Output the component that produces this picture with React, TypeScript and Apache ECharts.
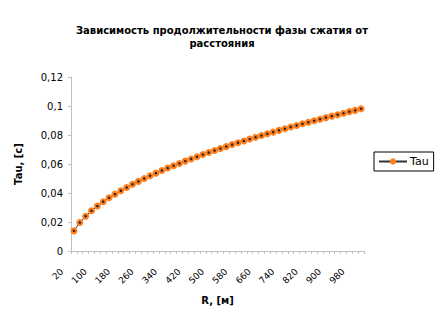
import React, { useEffect, useRef } from "react";
import * as echarts from "echarts";

const categories: string[] = [
  "20", "40", "60", "80", "100", "120", "140", "160", "180", "200",
  "220", "240", "260", "280", "300", "320", "340", "360", "380", "400",
  "420", "440", "460", "480", "500", "520", "540", "560", "580", "600",
  "620", "640", "660", "680", "700", "720", "740", "760", "780", "800",
  "820", "840", "860", "880", "900", "920", "940", "960", "980", "1000",
];

const tau: number[] = [
  0.0139, 0.0196, 0.024, 0.0277, 0.031, 0.034, 0.0367, 0.0392, 0.0416, 0.0438,
  0.046, 0.048, 0.05, 0.0519, 0.0537, 0.0555, 0.0572, 0.0588, 0.0604, 0.062,
  0.0635, 0.065, 0.0665, 0.0679, 0.0693, 0.0707, 0.072, 0.0734, 0.0747, 0.0759,
  0.0772, 0.0784, 0.0796, 0.0808, 0.082, 0.0832, 0.0843, 0.0855, 0.0866, 0.0877,
  0.0888, 0.0898, 0.0909, 0.092, 0.093, 0.094, 0.095, 0.0961, 0.097, 0.0981,
];

const titleText = "Зависимость продолжительности фазы сжатия от\nрасстояния";
const seriesName = "Tau";
const xName = "R, [м]";
const yName = "Tau, [c]";

const FONT = "DejaVu Sans";

export default function App() {
  const ref = useRef<HTMLDivElement>(null);
  useEffect(() => {
    if (!ref.current) return;
    const chart = echarts.init(ref.current, undefined, { renderer: "svg" });
    chart.setOption({
      animation: false,
      backgroundColor: "#ffffff",
      title: {
        text: titleText,
        left: "center",
        top: 19,
        textStyle: {
          fontFamily: FONT,
          fontSize: 10,
          fontWeight: "bold",
          color: "#000",
          lineHeight: 13,
        },
      },
      legend: {
        data: [seriesName],
        left: 374,
        top: 152,
        orient: "vertical",
        borderColor: "#000",
        borderWidth: 1,
        borderRadius: 0,
        padding: [4, 5, 4, 4],
        itemWidth: 28,
        itemHeight: 8,
        itemGap: 4,
        textStyle: { fontFamily: FONT, fontSize: 11, color: "#000", padding: [0, 0, 0, -2] },
      },
      grid: { left: 71, right: 80, top: 77, bottom: 76, containLabel: false },
      xAxis: {
        type: "category",
        data: categories,
        boundaryGap: true,
        name: xName,
        nameLocation: "middle",
        nameGap: 44,
        nameTextStyle: { fontFamily: FONT, fontSize: 10, fontWeight: "bold", color: "#000" },
        axisLine: { lineStyle: { color: "#c0c0c0", width: 1 } },
        axisTick: { show: true, interval: 0, length: 3, lineStyle: { color: "#c0c0c0" } },
        axisLabel: {
          interval: 3,
          rotate: 45,
          fontFamily: FONT,
          fontSize: 9,
          color: "#000",
          margin: 7,
          padding: [0, 17, 0, 0],
        },
        splitLine: { show: false },
      },
      yAxis: {
        type: "value",
        min: 0,
        max: 0.12,
        interval: 0.02,
        name: yName,
        nameLocation: "middle",
        nameGap: 48,
        nameRotate: 90,
        nameTextStyle: { fontFamily: FONT, fontSize: 10, fontWeight: "bold", color: "#000" },
        axisLine: { show: true, lineStyle: { color: "#c0c0c0", width: 1 } },
        axisTick: { show: true, length: 3, lineStyle: { color: "#c0c0c0" } },
        axisLabel: {
          fontFamily: FONT,
          fontSize: 10,
          color: "#000",
          margin: 8,
          formatter: (v: number) => (v === 0 ? "0" : String(Math.round(v * 100) / 100).replace(".", ",")),
        },
        splitLine: { show: false },
      },
      series: [
        {
          name: seriesName,
          type: "line",
          data: tau,
          symbol: "circle",
          symbolSize: 7,
          showAllSymbol: true,
          lineStyle: { color: "#333333", width: 1 },
          itemStyle: { color: "#ff7f1e", borderColor: "#ff7f1e", borderWidth: 0 },
          z: 2,
        },
        {
          name: "center",
          type: "line",
          data: tau,
          symbol: "circle",
          symbolSize: 2.5,
          showAllSymbol: true,
          lineStyle: { width: 0, opacity: 0 },
          itemStyle: { color: "#222222" },
          z: 3,
          silent: true,
        },
      ],
    });
    return () => chart.dispose();
  }, []);
  return <div ref={ref} style={{ width: 444, height: 327, position: "absolute", left: 0, top: 0 }} />;
}
